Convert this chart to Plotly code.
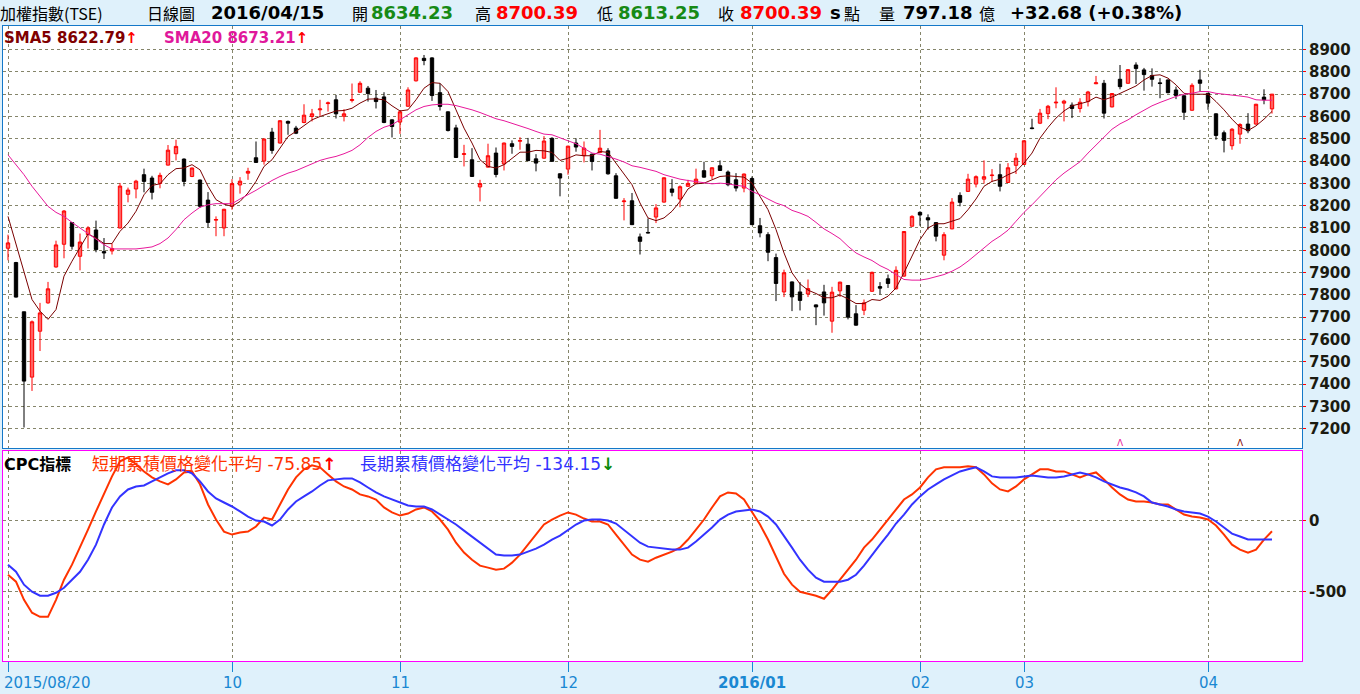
import plotly.graph_objects as go

# ---------------- data ----------------
opens = [8009, 7945, 7724, 7431, 7637, 7764, 7925, 8027, 8124, 7973, 8070, 8091, 7994, 7997, 8100, 8251, 8275, 8339, 8324, 8300,
         8382, 8433, 8409, 8331, 8315, 8225, 8135, 8100, 8197, 8293, 8346, 8415, 8400, 8530, 8481, 8578, 8548, 8573, 8600, 8630,
         8658, 8675, 8601, 8672, 8709, 8727, 8682, 8688, 8585, 8575, 8646, 8760, 8861, 8863, 8707, 8621, 8549, 8430, 8406, 8284,
         8373, 8436, 8387, 8478, 8489, 8476, 8410, 8413, 8502, 8343, 8364, 8481, 8424, 8431, 8439, 8446, 8334, 8218, 8222, 8060,
         8080, 8149, 8216, 8275, 8230, 8287, 8301, 8357, 8334, 8379, 8351, 8316, 8279, 8322, 8110, 8070, 7967, 7813, 7858, 7813,
         7804, 7755, 7813, 7682, 7818, 7842, 7715, 7731, 7816, 7837, 7872, 7827, 7884, 8108, 8170, 8146, 8124, 7978, 8096, 8246,
         8264, 8297, 8319, 8335, 8339, 8304, 8381, 8385, 8549, 8570, 8613, 8661, 8660, 8651, 8636, 8667, 8747, 8749, 8643, 8767,
         8749, 8831, 8809, 8784, 8751, 8764, 8719, 8693, 8628, 8764, 8704, 8612, 8527, 8469, 8521, 8566, 8566, 8687, 8634.23]
highs = [8070, 7948, 7724, 7685, 7764, 7858, 8043, 8180, 8126, 8075, 8108, 8133, 8055, 8030, 8302, 8281, 8316, 8366, 8334, 8348,
         8472, 8496, 8412, 8371, 8317, 8261, 8152, 8186, 8319, 8328, 8370, 8488, 8502, 8549, 8584, 8582, 8558, 8655, 8634, 8675,
         8667, 8697, 8633, 8748, 8758, 8737, 8719, 8709, 8587, 8627, 8731, 8866, 8876, 8866, 8749, 8623, 8563, 8473, 8458, 8316,
         8478, 8461, 8483, 8493, 8507, 8504, 8431, 8512, 8507, 8345, 8469, 8502, 8488, 8433, 8540, 8458, 8346, 8234, 8257, 8075,
         8143, 8207, 8327, 8319, 8291, 8316, 8366, 8397, 8372, 8403, 8358, 8346, 8344, 8331, 8145, 8081, 7985, 7913, 7860, 7857,
         7869, 7757, 7845, 7836, 7859, 7844, 7754, 7779, 7904, 7857, 7891, 7928, 8086, 8157, 8175, 8161, 8126, 8081, 8234, 8260,
         8343, 8336, 8403, 8364, 8388, 8391, 8436, 8493, 8590, 8634, 8652, 8731, 8675, 8663, 8682, 8715, 8782, 8764, 8705, 8831,
         8813, 8843, 8818, 8816, 8772, 8766, 8734, 8695, 8749, 8809, 8706, 8614, 8537, 8548, 8570, 8615, 8657, 8722, 8700.39]
lows = [7955, 7788, 7205, 7369, 7548, 7760, 7922, 7964, 8003, 7910, 8008, 7991, 7961, 7981, 8098, 8215, 8233, 8260, 8228, 8278,
        8380, 8403, 8287, 8328, 8190, 8103, 8063, 8063, 8182, 8254, 8316, 8392, 8384, 8433, 8479, 8518, 8521, 8570, 8578, 8603,
        8622, 8591, 8578, 8663, 8707, 8667, 8636, 8570, 8506, 8522, 8644, 8757, 8830, 8670, 8627, 8533, 8414, 8376, 8329, 8219,
        8371, 8327, 8358, 8433, 8451, 8400, 8354, 8411, 8397, 8242, 8339, 8442, 8394, 8358, 8436, 8339, 8231, 8134, 8113, 7981,
        8076, 8122, 8214, 8242, 8193, 8284, 8299, 8326, 8319, 8356, 8287, 8264, 8260, 8113, 8058, 7951, 7772, 7790, 7727, 7730,
        7790, 7664, 7707, 7630, 7791, 7690, 7662, 7709, 7814, 7802, 7831, 7824, 7881, 8106, 8110, 8093, 8040, 7955, 8094, 8197,
        8262, 8282, 8299, 8306, 8264, 8302, 8342, 8383, 8543, 8566, 8588, 8637, 8578, 8593, 8618, 8645, 8745, 8591, 8641, 8722,
        8747, 8746, 8716, 8734, 8682, 8704, 8678, 8585, 8626, 8712, 8630, 8496, 8439, 8451, 8478, 8525, 8563, 8655, 8613.25]
closes = [8033, 7790, 7413, 7679, 7719, 7827, 8024, 8176, 8018, 8037, 8100, 8003, 7988, 8008, 8288, 8270, 8310, 8309, 8260, 8336,
          8449, 8466, 8309, 8369, 8197, 8125, 8138, 8184, 8299, 8310, 8354, 8394, 8499, 8448, 8581, 8570, 8525, 8606, 8612, 8634,
          8661, 8612, 8612, 8676, 8749, 8703, 8667, 8573, 8555, 8621, 8719, 8863, 8851, 8694, 8645, 8537, 8416, 8433, 8331, 8299,
          8424, 8340, 8481, 8466, 8492, 8402, 8391, 8490, 8399, 8324, 8467, 8463, 8458, 8398, 8458, 8343, 8233, 8221, 8115, 8040,
          8078, 8190, 8325, 8260, 8285, 8300, 8319, 8328, 8370, 8358, 8294, 8279, 8342, 8115, 8078, 7991, 7851, 7899, 7791, 7775,
          7828, 7746, 7764, 7812, 7857, 7700, 7664, 7764, 7901, 7830, 7851, 7910, 8084, 8152, 8158, 8136, 8063, 8070, 8216, 8215,
          8319, 8330, 8330, 8337, 8287, 8370, 8413, 8491, 8546, 8615, 8646, 8664, 8669, 8636, 8664, 8710, 8751, 8615, 8703, 8734,
          8810, 8815, 8788, 8767, 8748, 8707, 8694, 8619, 8740, 8749, 8660, 8515, 8493, 8543, 8564, 8536, 8655, 8675, 8700.39]

sma5 = [8152, 8025, 7899, 7779, 7727, 7690, 7734, 7884, 7951, 8010, 8073, 8055, 8030, 8030, 8085, 8122, 8175, 8249, 8291, 8298,
        8339, 8366, 8369, 8384, 8361, 8287, 8227, 8207, 8197, 8219, 8257, 8309, 8376, 8406, 8458, 8510, 8533, 8558, 8585, 8600,
        8612, 8625, 8627, 8637, 8660, 8678, 8679, 8675, 8648, 8625, 8630, 8675, 8727, 8752, 8749, 8712, 8630, 8548, 8481, 8406,
        8376, 8369, 8384, 8413, 8440, 8440, 8448, 8446, 8439, 8403, 8413, 8428, 8424, 8424, 8443, 8439, 8391, 8346, 8294, 8212,
        8145, 8133, 8145, 8175, 8219, 8275, 8298, 8301, 8316, 8331, 8334, 8331, 8328, 8301, 8242, 8182, 8093, 7988, 7899, 7849,
        7821, 7806, 7787, 7787, 7799, 7782, 7761, 7761, 7779, 7775, 7794, 7831, 7899, 7973, 8048, 8100, 8119, 8119, 8130, 8142,
        8182, 8230, 8287, 8309, 8319, 8339, 8354, 8391, 8436, 8503, 8551, 8593, 8625, 8648, 8657, 8667, 8687, 8675, 8687, 8704,
        8719, 8737, 8764, 8784, 8787, 8772, 8742, 8704, 8700, 8700, 8700, 8667, 8630, 8588, 8552, 8537, 8558, 8588, 8622.79]
sma20 = [8428, 8384, 8339, 8287, 8242, 8197, 8170, 8152, 8125, 8100, 8075, 8051, 8025, 8006, 8006, 8006, 8006, 8010, 8015, 8030,
         8055, 8093, 8137, 8167, 8193, 8204, 8209, 8209, 8209, 8230, 8249, 8269, 8291, 8313, 8331, 8346, 8357, 8372, 8387, 8403,
         8413, 8421, 8433, 8448, 8473, 8506, 8533, 8552, 8563, 8585, 8608, 8630, 8645, 8652, 8655, 8655, 8649, 8640, 8630, 8618,
         8603, 8590, 8581, 8570, 8558, 8546, 8533, 8521, 8518, 8506, 8491, 8478, 8458, 8436, 8431, 8421, 8409, 8396, 8379, 8372,
         8364, 8354, 8339, 8328, 8319, 8313, 8309, 8305, 8298, 8301, 8298, 8291, 8287, 8264, 8249, 8230, 8212, 8200, 8179, 8167,
         8152, 8125, 8096, 8075, 8052, 8018, 7988, 7970, 7954, 7931, 7914, 7891, 7869, 7866, 7866, 7872, 7881, 7891, 7906, 7925,
         7951, 7981, 8010, 8040, 8063, 8090, 8130, 8170, 8204, 8242, 8279, 8316, 8346, 8373, 8397, 8436, 8473, 8510, 8543, 8567,
         8585, 8608, 8627, 8648, 8663, 8678, 8690, 8700, 8704, 8712, 8712, 8704, 8701, 8697, 8692, 8687, 8675, 8673, 8673.21]

cpc_short = [-382, -431, -559, -650, -679, -679, -559, -417, -311, -191, -64, 64, 184, 311, 417, 445, 396, 346, 304, 276,
             255, 290, 339, 346, 255, 113, 7, -78, -99, -85, -78, -42, 21, 7, 113, 219, 304, 361, 389, 375,
             325, 276, 240, 219, 184, 170, 148, 92, 57, 35, 49, 78, 92, 64, 7, -64, -156, -226, -276, -318,
             -332, -346, -339, -297, -240, -170, -99, -28, 7, 35, 57, 42, 14, -7, -7, -28, -99, -170, -240, -276,
             -290, -262, -240, -219, -191, -134, -64, 7, 92, 170, 198, 191, 148, 57, -28, -134, -255, -375, -452, -502,
             -516, -530, -551, -488, -417, -346, -276, -191, -134, -64, 7, 78, 148, 184, 233, 304, 361, 375, 375, 375,
             382, 375, 325, 262, 219, 205, 240, 290, 325, 361, 361, 346, 346, 325, 304, 325, 339, 290, 233, 184,
             148, 134, 134, 127, 113, 113, 78, 42, 28, 21, 7, -35, -99, -170, -205, -226, -205, -134, -75.85]
cpc_long = [-311, -361, -452, -502, -530, -530, -509, -474, -417, -361, -276, -170, -28, 92, 170, 219, 240, 247, 276, 304,
            332, 354, 354, 332, 276, 205, 156, 127, 99, 64, 28, 0, -7, -35, 7, 78, 134, 170, 205, 247,
            283, 290, 297, 297, 269, 233, 198, 170, 148, 127, 106, 99, 99, 78, 42, 7, -28, -71, -113, -156,
            -198, -240, -247, -247, -240, -219, -198, -170, -134, -106, -64, -28, 0, 7, 7, 0, -21, -64, -113, -156,
            -184, -191, -198, -205, -205, -191, -148, -99, -49, 7, 42, 64, 71, 78, 64, 28, -28, -106, -191, -276,
            -346, -403, -431, -431, -431, -417, -382, -318, -240, -170, -99, -21, 42, 113, 170, 219, 255, 290, 318, 346,
            361, 375, 346, 311, 304, 304, 304, 311, 318, 311, 304, 304, 311, 325, 339, 325, 304, 276, 255, 233,
            219, 198, 170, 127, 113, 99, 78, 64, 57, 49, 28, -7, -49, -92, -113, -134, -134, -134, -134.15]

month_tick_idx = [0, 28, 49, 70, 93, 114, 127, 150]
month_tick_text = ["2015/08/20", "10", "11", "12", "<b>2016/01</b>", "02", "03", "04"]
price_ticks = list(range(7200, 9000, 100))
cpc_ticks = [0, -500]
cpc_tick_text = ["0", "-500"]

# ---------------- styling ----------------
W, H = 1360, 694
BG = "#DFF1FB"
GRID = "#85856A"
BLUE = "#1478C8"
MAG = "#FF00FF"
XLBL = "#1A88D2"
NUMFONT = "DejaVu Sans"
CJKF = "Noto Sans CJK TC"
MIX = "DejaVu Sans, Noto Sans CJK TC"

def fx(px):
    return px / W

def fy(py):
    return 1 - py / H

idx = list(range(len(closes)))
xr = [-0.625, 161.75]

fig = go.Figure()
fig.add_trace(go.Candlestick(
    x=idx, open=opens, high=highs, low=lows, close=closes,
    increasing=dict(line=dict(color="#FF0000", width=1), fillcolor="#FF6262"),
    decreasing=dict(line=dict(color="#000000", width=1), fillcolor="#000000"),
    whiskerwidth=0, xaxis="x", yaxis="y", hoverinfo="skip", showlegend=False))
fig.add_trace(go.Scatter(x=idx, y=sma5, mode="lines", line=dict(color="#7A0000", width=1),
                         xaxis="x", yaxis="y", hoverinfo="skip"))
fig.add_trace(go.Scatter(x=idx, y=sma20, mode="lines", line=dict(color="#E8189B", width=1),
                         xaxis="x", yaxis="y", hoverinfo="skip"))
fig.add_trace(go.Scatter(x=idx, y=cpc_short, mode="lines", line=dict(color="#FF3300", width=2),
                         xaxis="x2", yaxis="y2", hoverinfo="skip"))
fig.add_trace(go.Scatter(x=idx, y=cpc_long, mode="lines", line=dict(color="#3333FF", width=2),
                         xaxis="x2", yaxis="y2", hoverinfo="skip"))

xdom = [fx(3), fx(1302)]
tickfont = dict(family=NUMFONT, size=15, color="#1B1B10", weight="bold")

fig.update_layout(
    width=W, height=H, margin=dict(l=0, r=0, t=0, b=0, pad=0),
    paper_bgcolor=BG, plot_bgcolor="white", showlegend=False, boxgap=0.4,
    xaxis=dict(domain=xdom, range=xr, anchor="y", tickmode="array", tickvals=month_tick_idx,
               showticklabels=False, ticks="", showgrid=True, gridcolor=GRID, griddash="dot", gridwidth=1,
               zeroline=False, showline=True, linecolor=BLUE, linewidth=1, mirror=True,
               rangeslider=dict(visible=False), fixedrange=True),
    yaxis=dict(domain=[fy(448), fy(26)], range=[7113, 9006], side="right", anchor="x",
               tickmode="array", tickvals=price_ticks, ticks="outside", ticklen=3, tickcolor="#FF0000",
               tickfont=tickfont, showgrid=True, gridcolor=GRID, griddash="dot", gridwidth=1,
               zeroline=False, showline=True, linecolor=BLUE, linewidth=1, mirror=True, fixedrange=True),
    xaxis2=dict(domain=xdom, range=xr, anchor="y2", tickmode="array", tickvals=month_tick_idx,
                showticklabels=False, ticks="outside", ticklen=10, tickcolor=XLBL, tickwidth=1,
                showgrid=True, gridcolor=GRID, griddash="dot", gridwidth=1,
                zeroline=False, showline=True, linecolor=MAG, linewidth=1, mirror=True,
                rangeslider=dict(visible=False), fixedrange=True),
    yaxis2=dict(domain=[fy(661), fy(451)], range=[-990, 490], side="right", anchor="x2",
                tickmode="array", tickvals=cpc_ticks, ticktext=cpc_tick_text, ticks="outside", ticklen=3,
                tickcolor="#FF0000", tickfont=tickfont, showgrid=True, gridcolor=GRID, griddash="dot",
                gridwidth=1, zeroline=False, showline=True, linecolor=MAG, linewidth=1, mirror=True,
                fixedrange=True),
)

ann = []

def txt(px, py, text, color="#000000", size=16, family=MIX, anchor="left"):
    ann.append(dict(x=fx(px), y=fy(py), xref="paper", yref="paper", text=text, showarrow=False,
                    xanchor=anchor, yanchor="middle", font=dict(family=family, size=size, color=color),
                    borderpad=0, borderwidth=0))

# header row
G = "#168A16"
R = "#FF0000"
hy = 12.5
txt(0, hy, "加權指數(TSE)", size=16, family=CJKF)
txt(147, hy, "日線圖", size=16, family=CJKF)
txt(211, hy, "<b>2016/04/15</b>", size=18, family=NUMFONT)
txt(352, hy, "開", size=16, family=CJKF)
txt(371, hy, "<b>8634.23</b>", G, size=18, family=NUMFONT)
txt(475, hy, "高", size=16, family=CJKF)
txt(496, hy, "<b>8700.39</b>", R, size=18, family=NUMFONT)
txt(597, hy, "低", size=16, family=CJKF)
txt(618, hy, "<b>8613.25</b>", G, size=18, family=NUMFONT)
txt(718, hy, "收", size=16, family=CJKF)
txt(740, hy, "<b>8700.39</b>", R, size=18, family=NUMFONT)
txt(830, hy, "<b>s</b>", size=18, family=NUMFONT)
txt(844, hy, "點", size=16, family=CJKF)
txt(879, hy, "量", size=16, family=CJKF)
txt(903, hy, "<b>797.18</b>", size=18, family=NUMFONT)
txt(979, hy, "億", size=16, family=CJKF)
txt(1010, hy, "<b>+32.68 (+0.38%)</b>", size=18, family=NUMFONT)

# price legend
ly = 38
txt(4, ly, "<b>SMA5 8622.79</b><span style='color:#FF0000'><b>↑</b></span>", "#800000", size=15, family=NUMFONT)
txt(164, ly, "<b>SMA20 8673.21</b><span style='color:#FF0000'><b>↑</b></span>", "#E0189B", size=15, family=NUMFONT)

# CPC legend
cy = 464
txt(4, cy, "<b>CPC指標</b>", size=16)
txt(92, cy, "短期累積價格變化平均 -75.85<span style='color:#FF0000'><b>↑</b></span>", "#FF3300", size=17)
txt(360, cy, "長期累積價格變化平均 -134.15<span style='color:#0A8A0A'><b>↓</b></span>", "#3333FF", size=17)

# x tick labels
xy = 683
for i, t in zip(month_tick_idx, month_tick_text):
    px = 8 + 8 * i
    if i == 0:
        txt(4, xy, t, XLBL, size=15, family=NUMFONT)
    else:
        txt(px, xy, t, XLBL, size=15, family=NUMFONT, anchor="center")

# small signal marks at bottom of price panel
sig_idx = [139, 154]
sig_col = ["#E8189B", "#800000"]
for i, c in zip(sig_idx, sig_col):
    ann.append(dict(x=i, y=7136, xref="x", yref="y", text="Λ", showarrow=False,
                    font=dict(family=NUMFONT, size=9, color=c), xanchor="center", yanchor="middle"))

fig.update_layout(annotations=ann)

fig.write_html("out.html", config={"displayModeBar": False, "staticPlot": True},
               post_script="document.body.style.margin='0';document.body.style.overflow='hidden';")
